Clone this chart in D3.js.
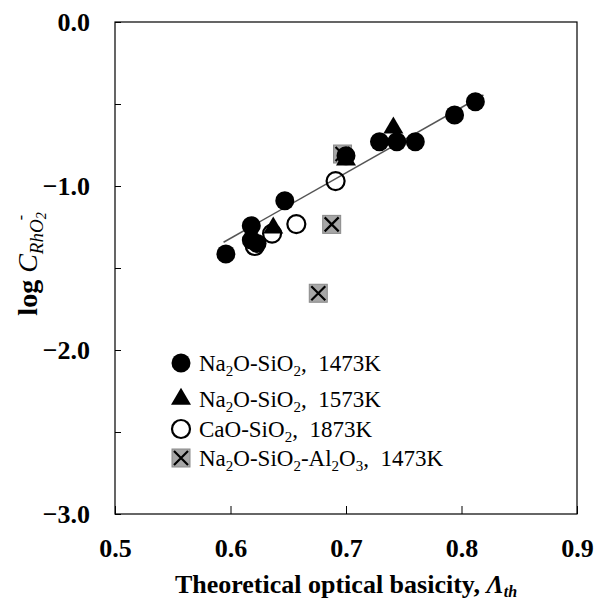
<!DOCTYPE html>
<html>
<head>
<meta charset="utf-8">
<script src="https://d3js.org/d3.v7.min.js"></script>
<style>
  body { margin: 0; background: #fff; }
  svg text { font-family: "Liberation Serif", "Times New Roman", serif; }
</style>
</head>
<body>
<div id="chart"></div>
<script>
// values
var naSi1473 = [[0.596, -1.415], [0.618, -1.242], [0.618, -1.33], [0.623, -1.35], [0.647, -1.09],
                [0.700, -0.815], [0.729, -0.73], [0.744, -0.73], [0.760, -0.73], [0.794, -0.567], [0.812, -0.486]];
var naSi1573 = [[0.637, -1.255], [0.700, -0.84], [0.741, -0.646]];
var caSi1873 = [[0.621, -1.366], [0.636, -1.29], [0.657, -1.232], [0.691, -0.970]];
var naSiAl1473 = [[0.676, -1.654], [0.6876, -1.234], [0.697, -0.805]];
var fitX = [0.594, 0.819];
var fitY = [-1.343, -0.445];
var xTicks = [0.5, 0.6, 0.7, 0.8, 0.9];
var yTicks = [0, -0.5, -1, -1.5, -2, -2.5, -3];

var W = 596, H = 602;
var margin = {top: 22, right: 19, bottom: 88, left: 115};
var width = W - margin.left - margin.right,
    height = H - margin.top - margin.bottom;

var svg = d3.select("#chart").append("svg")
    .attr("width", W).attr("height", H);
var g = svg.append("g")
    .attr("transform", "translate(" + margin.left + "," + margin.top + ")");

var x = d3.scaleLinear().domain([0.5, 0.9]).range([0, width]);
var y = d3.scaleLinear().domain([-3, 0]).range([height, 0]);

// axes, ticks pointing in
var xAxis = g.append("g")
    .attr("transform", "translate(0," + height + ")")
    .call(d3.axisBottom(x).tickValues(xTicks).tickSizeInner(-8).tickSizeOuter(0).tickPadding(25)
        .tickFormat(d3.format(".1f")));
var yAxis = g.append("g")
    .call(d3.axisLeft(y).tickValues(yTicks).tickSizeInner(-6).tickSizeOuter(0).tickPadding(25)
        .tickFormat(function (d) { return d % 1 === 0 ? d3.format(".1f")(d) : ""; }));

[xAxis, yAxis].forEach(function (a) {
    a.selectAll("text").style("font-size", "26px").style("font-weight", "bold").attr("fill", "#000");
    a.selectAll("line").attr("stroke", "#000");
    a.select(".domain").remove();
});

g.append("rect")
    .attr("width", width).attr("height", height)
    .attr("fill", "none").attr("stroke", "#000").attr("stroke-width", 1.2);

// fitted line
g.append("line")
    .attr("x1", x(fitX[0])).attr("y1", y(fitY[0]))
    .attr("x2", x(fitX[1])).attr("y2", y(fitY[1]))
    .attr("stroke", "#555").attr("stroke-width", 1.5);

function triPath(w, h) {
    return "M0," + (-h * 2 / 3) + "L" + (w / 2) + "," + (h / 3) + "L" + (-w / 2) + "," + (h / 3) + "Z";
}

function drawXSquare(sel) {
    sel.append("rect").attr("x", -9).attr("y", -9).attr("width", 18).attr("height", 18)
        .attr("fill", "#a6a6a6").attr("stroke", "#8a8a8a").attr("stroke-width", 1);
    sel.append("path").attr("d", "M-7,-7L7,7M7,-7L-7,7")
        .attr("stroke", "#000").attr("stroke-width", 2.2).attr("fill", "none");
}
function drawFilled(sel) { sel.append("circle").attr("r", 9.5).attr("fill", "#000"); }
function drawTri(sel) { sel.append("path").attr("d", triPath(20, 17)).attr("fill", "#000"); }
function drawOpen(sel) {
    sel.append("circle").attr("r", 9).attr("fill", "none").attr("stroke", "#000").attr("stroke-width", 2.2);
}

function plot(data, drawer) {
    g.append("g").selectAll("g").data(data).enter().append("g")
        .attr("transform", function (d) { return "translate(" + x(d[0]) + "," + y(d[1]) + ")"; })
        .each(function () { drawer(d3.select(this)); });
}
plot(naSiAl1473, drawXSquare);
plot(naSi1473, drawFilled);
plot(naSi1573, drawTri);
plot(caSi1873, drawOpen);

// legend
var legend = [
    {draw: drawFilled, y: 363, parts: [["Na"], ["2", "sub"], ["O-SiO"], ["2", "sub"], [",  1473K"]]},
    {draw: drawTri, y: 399, parts: [["Na"], ["2", "sub"], ["O-SiO"], ["2", "sub"], [",  1573K"]]},
    {draw: drawOpen, y: 429, parts: [["CaO-SiO"], ["2", "sub"], [",  1873K"]]},
    {draw: drawXSquare, y: 458, parts: [["Na"], ["2", "sub"], ["O-SiO"], ["2", "sub"], ["-Al"], ["2", "sub"], ["O"], ["3", "sub"], [",  1473K"]]}
];
legend.forEach(function (e) {
    var m = svg.append("g").attr("transform", "translate(181," + e.y + ")");
    e.draw(m);
    var t = svg.append("text").attr("x", 199).attr("y", e.y + 8)
        .style("font-size", "23px").attr("fill", "#000").style("white-space", "pre");
    var sub = false;
    e.parts.forEach(function (p) {
        var ts = t.append("tspan").text(p[0]);
        if (p[1] === "sub") { ts.attr("dy", 5).style("font-size", "15px"); sub = true; }
        else if (sub) { ts.attr("dy", -5); sub = false; }
    });
});

// axis titles
var xt = svg.append("text")
    .attr("x", margin.left + width / 2).attr("y", 593)
    .attr("text-anchor", "middle")
    .style("font-size", "26px").style("font-weight", "bold").attr("fill", "#000");
xt.append("tspan").text("Theoretical optical basicity, ");
xt.append("tspan").text("\u039B").style("font-style", "italic");
xt.append("tspan").text("th").style("font-style", "italic").style("font-size", "16px").attr("dy", 4);

var yt = svg.append("text")
    .attr("transform", "translate(37,264) rotate(-90)")
    .attr("text-anchor", "middle")
    .style("font-size", "28px").style("font-weight", "bold").attr("fill", "#000");
yt.append("tspan").text("log ");
yt.append("tspan").text("C").style("font-style", "italic").style("font-weight", "normal");
yt.append("tspan").text("RhO").style("font-style", "italic").style("font-weight", "normal")
    .style("font-size", "19px").attr("dy", 6);
yt.append("tspan").text("2").style("font-style", "italic").style("font-weight", "normal")
    .style("font-size", "14px").attr("dy", 3);
yt.append("tspan").text("-").style("font-style", "italic").style("font-weight", "normal")
    .style("font-size", "16px").attr("dy", -20).attr("dx", -8);
</script>
</body>
</html>
